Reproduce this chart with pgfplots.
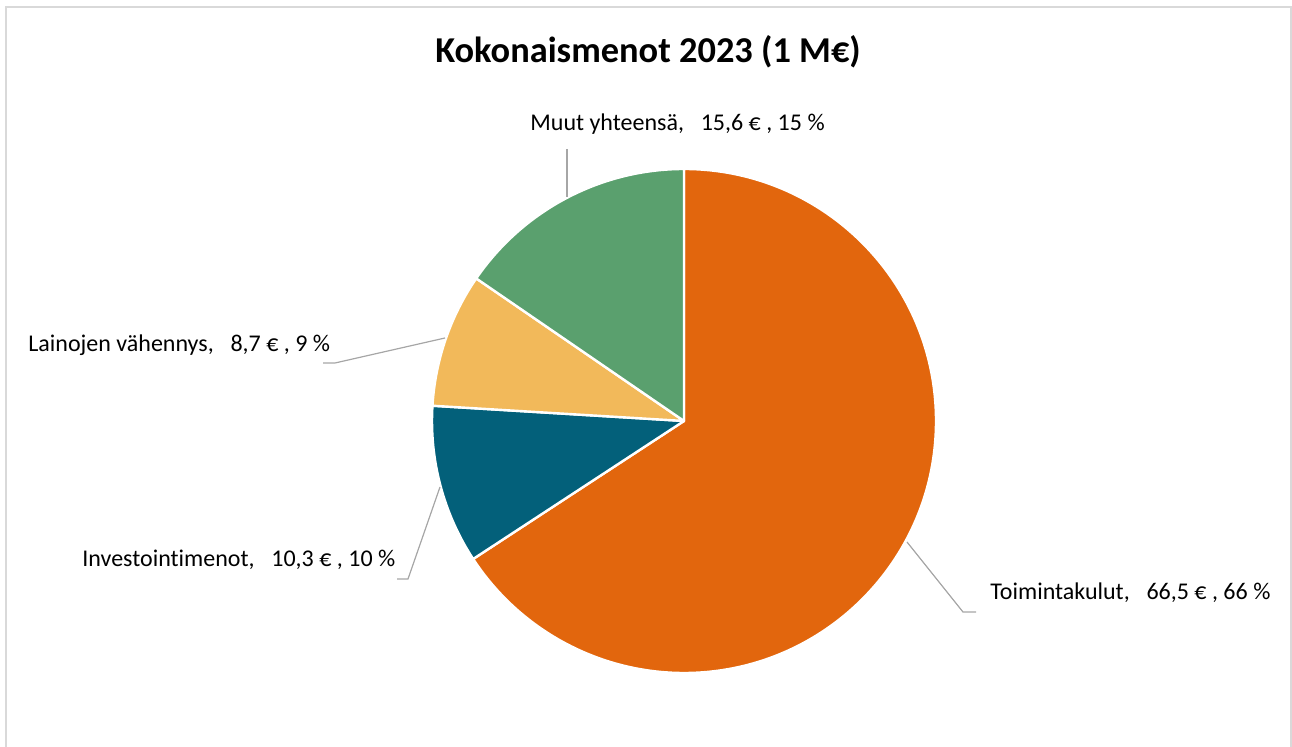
\documentclass[border=0pt]{standalone}
\usepackage{pgfplots}
\pgfplotsset{compat=1.18}
\usepackage{fontspec}
\setmainfont{Carlito}[Ligatures={NoCommon}]
\definecolor{cOrange}{HTML}{E2660D}
\definecolor{cTeal}{HTML}{03607A}
\definecolor{cYellow}{HTML}{F2B95A}
\definecolor{cGreen}{HTML}{5AA06E}
\definecolor{cFrame}{HTML}{D9D9D9}
\definecolor{cLead}{HTML}{A6A6A6}
\begin{document}
\begin{tikzpicture}
\def\vA{66.5}\def\vB{10.3}\def\vC{8.7}\def\vD{15.6}
\pgfmathsetmacro\tot{\vA+\vB+\vC+\vD}
\pgfmathsetmacro\aA{90}
\pgfmathsetmacro\aB{\aA-\vA/\tot*360}
\pgfmathsetmacro\aC{\aB-\vB/\tot*360}
\pgfmathsetmacro\aD{\aC-\vC/\tot*360}
\pgfmathsetmacro\aE{\aD-\vD/\tot*360}
\begin{axis}[
  width=646pt, height=373.5pt, scale only axis,
  xmin=0, xmax=1292, ymin=0, ymax=747, y dir=reverse,
  hide axis, clip=false,
]
\coordinate (BL) at (axis cs:0,747);
\coordinate (TR) at (axis cs:1292,0);
\draw[color=cFrame, line width=1pt] (axis cs:6,760) -- (axis cs:6,7) -- (axis cs:1291,7) -- (axis cs:1291,760);
\coordinate (C) at (axis cs:684,421);
\filldraw[fill=cOrange, draw=white, line width=1.2pt, line join=round] (C) -- ++(\aA:126pt) arc[start angle=\aA, end angle=\aB, radius=126pt] -- cycle;
\filldraw[fill=cTeal, draw=white, line width=1.2pt, line join=round] (C) -- ++(\aB:126pt) arc[start angle=\aB, end angle=\aC, radius=126pt] -- cycle;
\filldraw[fill=cYellow, draw=white, line width=1.2pt, line join=round] (C) -- ++(\aC:126pt) arc[start angle=\aC, end angle=\aD, radius=126pt] -- cycle;
\filldraw[fill=cGreen, draw=white, line width=1.2pt, line join=round] (C) -- ++(\aD:126pt) arc[start angle=\aD, end angle=\aE, radius=126pt] -- cycle;
\node[anchor=base, font=\fontsize{18.2}{21}\selectfont\bfseries, inner sep=0pt] at (axis cs:648,63) {Kokonaismenot 2023 (1 M€)};
\tikzset{lbl/.style={anchor=base west, font=\fontsize{12}{14}\selectfont, inner sep=0pt}}
\node[lbl] at (axis cs:530,131) {Muut yhteensä,\hspace{0.7em}15,6 € , 15 \%};
\node[lbl] at (axis cs:28,352) {Lainojen vähennys,\hspace{0.7em}8,7 € , 9 \%};
\node[lbl] at (axis cs:82,567) {Investointimenot,\hspace{0.7em}10,3 € , 10 \%};
\node[lbl] at (axis cs:990,600) {Toimintakulut,\hspace{0.7em}66,5 € , 66 \%};
\draw[cLead, line width=0.6pt] (axis cs:567,149) -- (axis cs:567,197);
\draw[cLead, line width=0.6pt] (axis cs:323,363) -- (axis cs:335,363) -- (axis cs:445,338);
\draw[cLead, line width=0.6pt] (axis cs:397,579) -- (axis cs:408,579) -- (axis cs:440,487);
\draw[cLead, line width=0.6pt] (axis cs:907,542) -- (axis cs:963,612) -- (axis cs:976,612);
\end{axis}
\pgfresetboundingbox
\path[use as bounding box] (BL) rectangle (TR);
\end{tikzpicture}
\end{document}
